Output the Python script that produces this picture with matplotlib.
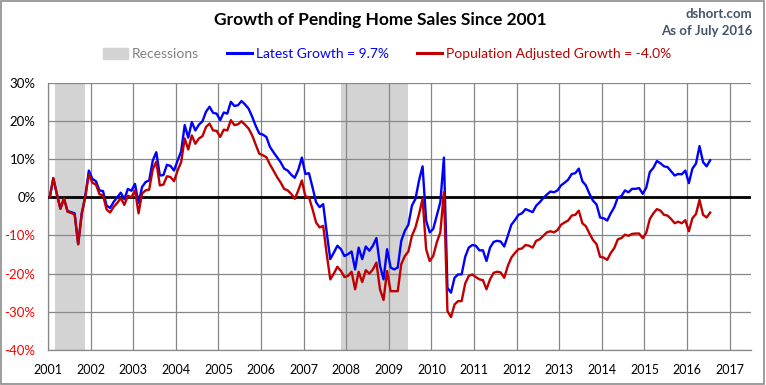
import matplotlib
matplotlib.use('Agg')
import matplotlib.pyplot as plt
import numpy as np
from matplotlib.patches import Patch
from matplotlib.lines import Line2D

plt.rcParams['font.family'] = ['Lato', 'DejaVu Sans']

# monthly growth since Jan 2001, in percent (Jan 2001 .. Jul 2016)
latest = [
    0.0, 5.0, 0.8, -3.0, -0.3, -3.6, -3.9, -4.2, -12.3, -4.2, 0.3, 7.0,          # 2001
    4.8, 4.2, 1.8, 1.6, -2.2, -2.8, -1.2, 0.0, 1.2, -0.5, 2.2, 1.7,              # 2002
    3.5, -1.5, 2.7, 4.0, 4.4, 9.6, 11.8, 5.7, 5.8, 8.5, 8.2, 7.0,                # 2003
    9.6, 12.0, 18.9, 15.6, 19.7, 17.5, 19.0, 19.9, 22.4, 23.7, 22.1, 21.9,       # 2004
    20.2, 22.2, 21.9, 25.0, 23.9, 24.1, 25.2, 24.3, 23.2, 21.1, 18.7, 16.7,      # 2005
    16.4, 15.8, 13.2, 11.8, 10.5, 9.2, 7.5, 7.0, 5.9, 5.1, 7.2, 10.4,            # 2006
    6.1, 6.3, 2.6, -1.3, -2.6, -1.8, -9.2, -16.2, -14.5, -12.7, -13.6, -15.4,    # 2007
    -14.9, -14.2, -18.9, -13.2, -16.2, -12.9, -14.0, -12.7, -10.7, -17.9, -21.5, -13.6,  # 2008
    -18.4, -18.9, -18.4, -11.4, -8.8, -7.2, -2.2, -0.4, 4.4, 8.1, -6.1, -9.2,    # 2009
    -8.3, -4.8, -1.3, 10.4, -23.7, -25.0, -21.1, -20.2, -20.2, -15.6, -13.2, -12.5,  # 2010
    -12.7, -13.9, -13.9, -16.7, -13.2, -11.7, -11.4, -11.6, -12.9, -10.1, -7.2, -6.0,  # 2011
    -4.6, -4.2, -3.1, -3.5, -3.9, -2.2, -1.3, -0.2, 0.7, 1.5, 1.3, 1.8,          # 2012
    3.1, 3.8, 4.6, 6.1, 6.3, 7.5, 4.2, 3.1, 0.9, -0.9, -1.9, -5.3,               # 2013
    -5.5, -6.1, -4.2, -2.6, 0.0, 0.3, 1.8, 1.3, 2.2, 2.2, 2.4, 0.9,              # 2014
    2.5, 6.6, 7.7, 9.5, 8.9, 8.1, 7.9, 6.8, 5.7, 6.1, 6.0, 7.0,                  # 2015
    3.7, 7.5, 8.8, 13.4, 9.2, 8.1, 9.7,                                          # 2016
]

pop_adjusted = [
    0.0, 5.0, 0.8, -3.0, -0.3, -3.8, -4.1, -4.5, -12.3, -4.4, 0.0, 6.0,
    3.8, 3.3, 0.8, 0.5, -3.2, -4.0, -2.5, -1.5, -0.2, -2.0, 0.4, 0.0,
    1.8, -4.2, 1.0, 1.8, 2.0, 7.3, 9.3, 3.1, 3.3, 5.5, 5.3, 4.2,
    7.0, 9.2, 15.4, 12.5, 16.2, 14.0, 15.4, 16.0, 18.4, 19.3, 17.5, 17.4,
    15.8, 17.7, 17.5, 20.2, 18.9, 19.1, 19.9, 19.0, 18.0, 16.2, 13.8, 11.4,
    11.0, 10.5, 8.6, 7.0, 5.3, 3.9, 2.2, 1.8, 0.9, -0.4, 1.8, 4.4,
    0.2, 0.0, -3.1, -6.6, -7.9, -7.5, -14.9, -21.5, -20.0, -18.2, -19.3, -20.9,
    -20.6, -19.5, -24.1, -19.5, -22.2, -19.1, -20.0, -18.9, -17.1, -24.1, -26.9, -19.3,
    -24.6, -24.6, -24.6, -17.5, -15.4, -14.2, -10.1, -7.9, -4.4, -0.4, -13.6, -16.7,
    -15.4, -11.8, -9.2, 1.3, -29.8, -31.4, -28.1, -27.2, -27.2, -22.6, -20.6, -20.2,
    -20.9, -21.5, -21.7, -24.1, -21.5, -19.8, -19.5, -19.7, -21.1, -18.0, -15.8, -14.6,
    -13.6, -13.4, -12.5, -12.7, -13.2, -11.4, -11.0, -10.1, -9.2, -8.9, -9.2, -8.6,
    -7.2, -6.6, -6.1, -4.8, -4.6, -3.5, -6.8, -7.6, -9.5, -11.2, -12.3, -15.6,
    -15.8, -16.4, -14.6, -13.3, -11.0, -10.7, -9.8, -10.1, -9.6, -9.5, -9.5, -10.7,
    -9.3, -5.7, -4.2, -3.1, -3.5, -4.6, -4.8, -5.7, -6.8, -6.4, -6.8, -6.0,
    -8.9, -5.5, -4.4, -0.7, -4.6, -5.3, -4.0,
]

recessions = [(2001.17, 2001.88), (2007.88, 2009.45)]
years = list(range(2001, 2018))
yticks = [30, 20, 10, 0, -10, -20, -30, -40]

x = 2001 + (np.arange(len(latest)) + 0.5) / 12.0

fig = plt.figure(figsize=(7.66, 3.85), dpi=100)
ax = fig.add_axes([48 / 766, 1 - 350 / 385, (751 - 48) / 766, (350 - 82.7) / 385])

for a, b in recessions:
    ax.axvspan(a, b, color='#d3d3d3', lw=0, zorder=0)

ax.set_axisbelow(True)
ax.grid(True, color='#878787', lw=0.9)
ax.axhline(0, color='black', lw=2.0, zorder=3)
ax.plot(x, latest, color='#0000ff', lw=1.7, zorder=4)
ax.plot(x, pop_adjusted, color='#c00000', lw=1.7, zorder=5)

ax.set_xlim(2001, 2017.5)
ax.set_ylim(-40, 30)
ax.set_xticks(years)
ax.set_xticklabels([str(y) for y in years], fontsize=9)
ax.set_yticks(yticks)
ax.set_yticklabels(['%d%%' % v for v in yticks], fontsize=9.5)
for lbl, v in zip(ax.get_yticklabels(), yticks):
    lbl.set_color('#ff0000' if v < 0 else 'black')
ax.tick_params(length=0)
ax.tick_params(axis='y', pad=9)
ax.tick_params(axis='x', pad=10)
for s in ['top', 'right']:
    ax.spines[s].set_visible(False)
for s in ['left', 'bottom']:
    ax.spines[s].set_color('#878787')
    ax.spines[s].set_linewidth(0.9)

fig.text(0.497, 1 - 20 / 385, 'Growth of Pending Home Sales Since 2001', ha='center', va='center',
         fontsize=12.5, fontweight='bold')
fig.text(0.982, 1 - 14 / 385, 'dshort.com', ha='right', va='center', fontsize=9.5,
         fontweight='bold', color='#44546a')
fig.text(0.982, 1 - 31 / 385, 'As of July 2016', ha='right', va='center', fontsize=9.5,
         fontweight='bold', color='#44546a')

handles = [Patch(color='#d3d3d3'),
           Line2D([], [], color='#0000ff', lw=2.2),
           Line2D([], [], color='#c00000', lw=2.2)]
labels = ['Recessions', 'Latest Growth = 9.7%', 'Population Adjusted Growth = -4.0%']
leg = fig.legend(handles, labels, ncol=3, loc='center', bbox_to_anchor=(0.505, 1 - 54 / 385),
                 frameon=False, fontsize=10, handlelength=1.8, handletextpad=0.3,
                 columnspacing=2.0, handleheight=0.9)
for t, c in zip(leg.get_texts(), ['#808080', '#0000ff', '#c00000']):
    t.set_color(c)

fig.patches.append(plt.Rectangle((0.001, 0.002), 0.997, 0.996, transform=fig.transFigure,
                                 fill=False, edgecolor='#8c8c8c', lw=1.2))

fig.savefig('out.png', dpi=100)
